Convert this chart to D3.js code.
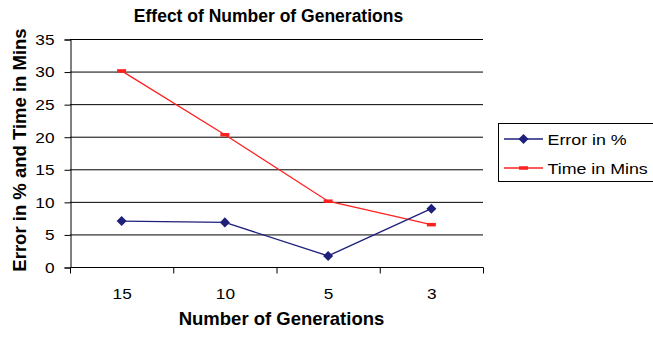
<!DOCTYPE html>
<html>
<head>
<meta charset="utf-8">
<script src="https://cdn.jsdelivr.net/npm/d3@7"></script>
<style>
  html, body { margin: 0; padding: 0; background: #fff; }
  svg { display: block; font-family: "Liberation Sans", Arial, sans-serif; }
</style>
</head>
<body>
<svg id="chart" width="653" height="339"></svg>
<script>
// Categories along the x axis (number of generations)
const generations = ["15", "10", "5", "3"];
// Series values
const errorPct = [7.05, 6.85, 1.7, 8.95];
const timeMins = [30.1, 20.3, 10.1, 6.5];
const yTicks = [0, 5, 10, 15, 20, 25, 30, 35];
const seriesNames = ["Error in %", "Time in Mins"];

const svg = d3.select("#chart");
const m = { left: 70, right: 483, top: 39, bottom: 267 };
const wide = 1.15; // horizontal stretch of the regular-weight labels

const x = d3.scaleBand().domain(generations).range([m.left, m.right]);
const y = d3.scaleLinear().domain([0, 35]).range([m.bottom, m.top]);
const cx = d => x(d) + x.bandwidth() / 2;

// Horizontal gridlines
svg.append("g")
  .selectAll("line")
  .data(yTicks.filter(t => t > 0))
  .join("line")
  .attr("x1", m.left).attr("x2", m.right)
  .attr("y1", d => y(d) + 0.5).attr("y2", d => y(d) + 0.5)
  .attr("stroke", "#000").attr("stroke-width", 1);

// Y axis
const yAxis = svg.append("g")
  .attr("transform", `translate(${m.left + 0.5},0.5)`)
  .call(d3.axisLeft(y).tickValues(yTicks).tickSize(6).tickPadding(10));
yAxis.select(".domain").attr("stroke", "#000");
yAxis.selectAll(".tick line").attr("stroke", "#000");
yAxis.selectAll("text")
  .attr("font-size", 15).attr("fill", "#000")
  .attr("font-family", "Liberation Sans, Arial, sans-serif")
  .attr("transform", function () {
    const tx = +d3.select(this).attr("x");
    return `translate(${tx},0) scale(${wide},1) translate(${-tx},0)`;
  });

// X axis: ticks at the category boundaries
const xAxisG = svg.append("g").attr("transform", `translate(0.5,${m.bottom + 0.5})`);
xAxisG.append("line")
  .attr("x1", m.left).attr("x2", m.right).attr("y1", 0).attr("y2", 0)
  .attr("stroke", "#000");
const bounds = generations.map(g => x(g)).concat([x(generations[generations.length - 1]) + x.bandwidth()]);
xAxisG.selectAll("line.tick")
  .data(bounds)
  .join("line").attr("class", "tick")
  .attr("x1", d => d).attr("x2", d => d).attr("y1", 0).attr("y2", 6)
  .attr("stroke", "#000");
xAxisG.selectAll("text")
  .data(generations)
  .join("text")
  .attr("transform", d => `translate(${cx(d)},31.5) scale(${wide},1)`)
  .attr("text-anchor", "middle").attr("font-size", 15).attr("fill", "#000")
  .text(d => d);

// Series lines
const line = d3.line().x((d, i) => cx(generations[i])).y(d => y(d));

svg.append("path").datum(timeMins)
  .attr("d", line).attr("fill", "none").attr("stroke", "#ff2020").attr("stroke-width", 1.3);
svg.append("path").datum(errorPct)
  .attr("d", line).attr("fill", "none").attr("stroke", "#1f1f7c").attr("stroke-width", 1.3);

// Markers
const diamond = d3.symbol().type(d3.symbolDiamond2).size(64);
svg.append("g").selectAll("path")
  .data(errorPct)
  .join("path")
  .attr("transform", (d, i) => `translate(${cx(generations[i])},${y(d)})`)
  .attr("d", diamond).attr("fill", "#1f1f7c");

svg.append("g").selectAll("rect")
  .data(timeMins)
  .join("rect")
  .attr("x", (d, i) => cx(generations[i]) - 4.5).attr("y", d => y(d) - 1.75)
  .attr("width", 9).attr("height", 3.5).attr("fill", "#ff2020");

// Titles
svg.append("text")
  .attr("x", 268.5).attr("y", 21.7)
  .attr("text-anchor", "middle").attr("font-size", 17.5).attr("font-weight", "bold")
  .text("Effect of Number of Generations");

svg.append("text")
  .attr("x", 281.5).attr("y", 325)
  .attr("text-anchor", "middle").attr("font-size", 18.5).attr("font-weight", "bold")
  .text("Number of Generations");

svg.append("text")
  .attr("transform", "translate(26,150) rotate(-90)")
  .attr("text-anchor", "middle").attr("font-size", 18.5).attr("font-weight", "bold")
  .text("Error in % and Time in Mins");

// Legend
const lg = svg.append("g");
lg.append("rect")
  .attr("x", 498.5).attr("y", 123.5).attr("width", 160).attr("height", 58)
  .attr("fill", "#fff").attr("stroke", "#000");
const legendColors = ["#1f1f7c", "#ff2020"];
seriesNames.forEach((name, i) => {
  const ly = 139 + i * 29;
  lg.append("line")
    .attr("x1", 504).attr("x2", 543).attr("y1", ly).attr("y2", ly)
    .attr("stroke", legendColors[i]).attr("stroke-width", 1.3);
  if (i === 0) {
    lg.append("path").attr("transform", `translate(523.5,${ly})`)
      .attr("d", diamond).attr("fill", legendColors[i]);
  } else {
    lg.append("rect").attr("x", 519).attr("y", ly - 1.75)
      .attr("width", 9).attr("height", 3.5).attr("fill", legendColors[i]);
  }
  lg.append("text")
    .attr("transform", `translate(547.5,${ly + 5.5}) scale(${wide},1)`)
    .attr("font-size", 15.5).attr("fill", "#000")
    .text(name);
});
</script>
</body>
</html>
